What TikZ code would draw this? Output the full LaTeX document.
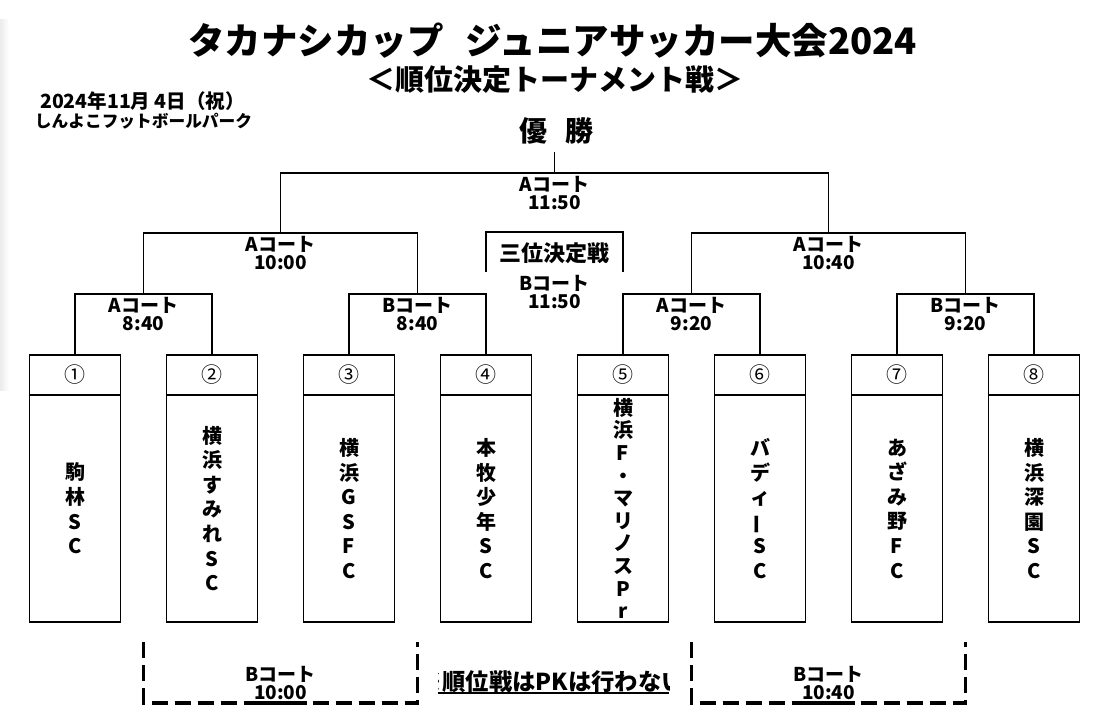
\documentclass[tikz,border=0pt]{standalone}
\usepackage{fontspec}
\setmainfont{Noto Sans CJK JP}
\usepackage{graphicx}
\usetikzlibrary{positioning}
\newcommand{\taille}[2]{\fontsize{#1}{#2}\selectfont}
\newcommand{\tate}{\rotatebox[origin=c]{90}{ー}}

\begin{document}
\begin{tikzpicture}[x=1pt,y=-1pt]
\tikzset{numero/.style={draw, line width=1.6pt, minimum width=91pt, minimum height=40pt, inner sep=0pt, outer sep=0pt, font=\taille{21}{21}},
equipe/.style={draw, line width=1.6pt, minimum width=91pt, minimum height=227pt, inner sep=0pt, outer sep=0pt, align=center, font=\bfseries\taille{20}{24.6}},
terrain/.style={align=center, inner sep=0pt, font=\bfseries\taille{19}{18.5}},
trait/.style={line width=1.6pt},
pointille/.style={line width=3.2pt, dash pattern=on 16pt off 7pt}}
\useasboundingbox (0,0) rectangle (1108,725);
\shade[left color=black!8, right color=white] (0,20) rectangle (9,390);
% titres
\node[font=\bfseries\taille{36.5}{36.5}] (titre) at (552.5,41) {タカナシカップ\hspace{22pt}ジュニアサッカー大会2024};
\node[font=\bfseries\taille{29}{29}] (soustitre) at (554.5,80) {＜順位決定トーナメント戦＞};
\node[font=\bfseries\taille{19.5}{19.5}] (date) at (142.5,101) {2024年11月 4日（祝）};
\node[font=\bfseries\taille{16.7}{16.7}] (lieu) at (143.5,121) {しんよこフットボールパーク};
\node[font=\bfseries\taille{28}{28}] (yusho) at (556.5,131) {優\hspace{19pt}勝};
% equipes
\node[numero] (N1) at (75,375) {①};
\node[numero] (N2) at (212,375) {②};
\node[numero] (N3) at (349,375) {③};
\node[numero] (N4) at (486,375) {④};
\node[numero] (N5) at (623,375) {⑤};
\node[numero] (N6) at (760,375) {⑥};
\node[numero] (N7) at (897,375) {⑦};
\node[numero] (N8) at (1034,375) {⑧};
\node[equipe, below=0pt of N1] (E1) {駒\\林\\S\\C};
\node[equipe, below=0pt of N2] (E2) {横\\浜\\す\\み\\れ\\S\\C};
\node[equipe, below=0pt of N3] (E3) {横\\浜\\G\\S\\F\\C};
\node[equipe, below=0pt of N4] (E4) {本\\牧\\少\\年\\S\\C};
\node[equipe, below=0pt of N5, font=\bfseries\taille{20}{22.6}] (E5) {横\\浜\\F\\・\\マ\\リ\\ノ\\ス\\P\\r};
\node[equipe, below=0pt of N6] (E6) {バ\\デ\\ィ\\\tate\\S\\C};
\node[equipe, below=0pt of N7] (E7) {あ\\ざ\\み\\野\\F\\C};
\node[equipe, below=0pt of N8] (E8) {横\\浜\\深\\園\\S\\C};
% tableau
\coordinate (Q1) at (143.5,294);
\coordinate (Q2) at (417.5,294);
\coordinate (Q3) at (691.5,294);
\coordinate (Q4) at (965.5,294);
\coordinate (S1) at (280.5,233);
\coordinate (S2) at (828.5,233);
\coordinate (F) at (554.5,173);
\coordinate (Top) at (554.5,152);
\draw[trait] (N1.north) |- (Q1) -| (N2.north);
\draw[trait] (N3.north) |- (Q2) -| (N4.north);
\draw[trait] (N5.north) |- (Q3) -| (N6.north);
\draw[trait] (N7.north) |- (Q4) -| (N8.north);
\draw[trait] (Q1) |- (S1) -| (Q2);
\draw[trait] (Q3) |- (S2) -| (Q4);
\draw[trait] (S1) |- (F) -| (S2);
\draw[trait] (Top) -- (F);
\node[terrain, below=3pt of Q1] (LQ1) {Aコート\\8:40};
\node[terrain, below=3pt of Q2] (LQ2) {Bコート\\8:40};
\node[terrain, below=3pt of Q3] (LQ3) {Aコート\\9:20};
\node[terrain, below=3pt of Q4] (LQ4) {Bコート\\9:20};
\node[terrain, below=3pt of S1] (LS1) {Aコート\\10:00};
\node[terrain, below=3pt of S2] (LS2) {Aコート\\10:40};
\node[terrain, below=3pt of F] (LF) {Aコート\\11:50};
% troisieme place
\coordinate (P3) at (554.5,232);
\coordinate (P3g) at (486,272);
\coordinate (P3d) at (623,272);
\draw[trait] (P3g) |- (P3) -| (P3d);
\node[inner sep=0pt, font=\bfseries\taille{22}{22}] (sanni) at (554.5,253) {三位決定戦};
\node[terrain, below=11pt of sanni] (L3) {Bコート\\11:50};
% matchs de classement
\coordinate (D1g) at (143.5,642);
\coordinate (D1d) at (417.5,642);
\coordinate (D1) at (280.5,703);
\coordinate (D2g) at (691.5,642);
\coordinate (D2d) at (965.5,642);
\coordinate (D2) at (828.5,703);
\draw[pointille] (D1g) |- (D1) -| (D1d);
\draw[pointille] (D2g) |- (D2) -| (D2d);
\draw[line width=3.2pt] ([xshift=-26pt]D1) -- ([xshift=26pt]D1);
\draw[line width=3.2pt] ([xshift=-26pt]D2) -- ([xshift=26pt]D2);
\node[terrain, above=3pt of D1] (LD1) {Bコート\\10:00};
\node[terrain, above=3pt of D2] (LD2) {Bコート\\10:40};
\begin{scope}
\clip (438,655) rectangle (669,700);
\node[font=\bfseries\taille{23.3}{23.3}, anchor=base west, inner sep=0pt] (note) at (419,690) {※順位戦はPKは行わない};
\draw[line width=1.3pt] (438,693) -- (669,693);
\end{scope}
\end{tikzpicture}
\end{document}
